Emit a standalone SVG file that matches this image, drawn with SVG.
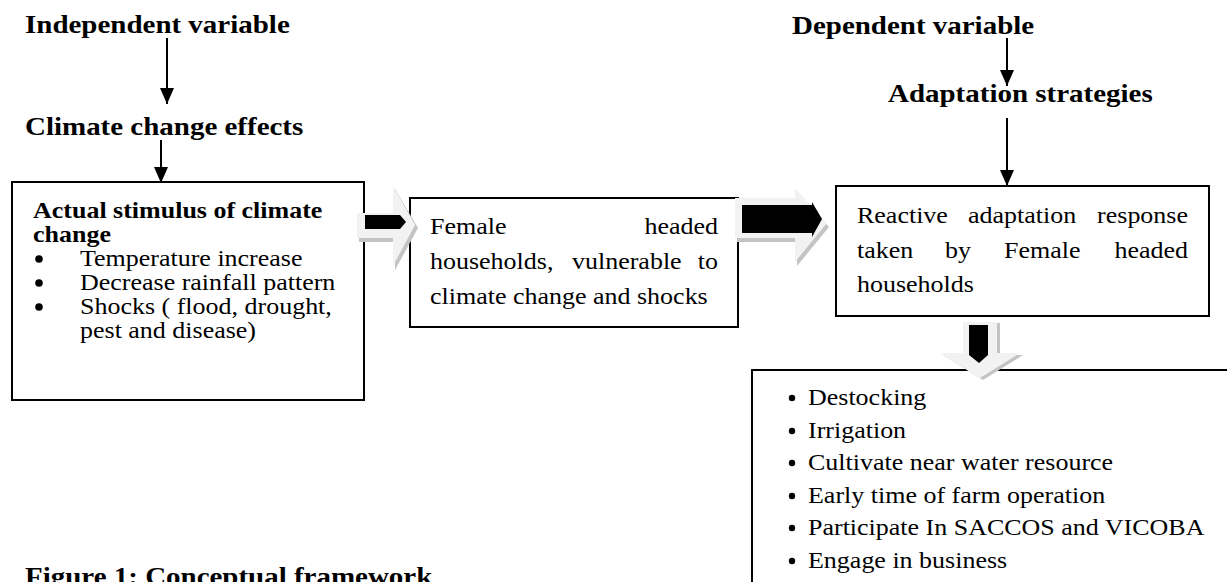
<svg xmlns="http://www.w3.org/2000/svg" width="1227" height="582" viewBox="0 0 1227 582">
<defs>
<style>
text{font-family:"Liberation Serif","Times New Roman",serif;fill:#000}
.h{font-size:25.2px;font-weight:bold}
.b{font-size:22.6px}
.bb{font-size:22.6px;font-weight:bold}
.r{text-anchor:end}
.dot{fill:#000}
.box{fill:#fff;stroke:#000;stroke-width:2}
.ln{stroke:#000;stroke-width:2;fill:none;marker-end:url(#ah)}
.light{fill:#f2f2f2}
.shade{fill:#c4c4c4}
.blk{fill:#000}
</style>
<marker id="ah" viewBox="0 0 16 16" refX="16" refY="8" markerWidth="16" markerHeight="16" markerUnits="userSpaceOnUse" orient="auto"><path d="M0,1 L16,8 L0,15 Z" fill="#000"/></marker>
</defs>
<rect width="1227" height="582" fill="#fff"/>

<g id="independent-variable"><text class="h" transform="translate(25,33) scale(1.15,1)">Independent variable</text></g>
<g id="climate-change-effects"><text class="h" transform="translate(25,135) scale(1.15,1)">Climate change effects</text></g>
<g id="dependent-variable"><text class="h" transform="translate(792,34) scale(1.15,1)">Dependent variable</text></g>
<g id="adaptation-strategies"><text class="h" transform="translate(888,102) scale(1.15,1)">Adaptation strategies</text></g>

<g id="stimulus-box">
<rect class="box" x="12" y="182" width="352" height="218"/>
<text class="bb" transform="translate(33,218) scale(1.15,1)">Actual stimulus of climate</text>
<text class="bb" transform="translate(33,242) scale(1.15,1)">change</text>
<circle class="dot" cx="39" cy="259" r="3.8"/>
<text class="b" transform="translate(80,266) scale(1.15,1)">Temperature increase</text>
<circle class="dot" cx="39" cy="283" r="3.8"/>
<text class="b" transform="translate(80,290) scale(1.15,1)">Decrease rainfall pattern</text>
<circle class="dot" cx="39" cy="307" r="3.8"/>
<text class="b" transform="translate(80,314) scale(1.15,1)">Shocks ( flood, drought,</text>
<text class="b" transform="translate(80,338) scale(1.15,1)">pest and disease)</text>
</g>

<g id="female-headed-box">
<rect class="box" x="410" y="198" width="328" height="129"/>
<text class="b" transform="translate(430,234) scale(1.15,1)">Female</text>
<text class="b r" transform="translate(718,234) scale(1.15,1)">headed</text>
<text class="b" transform="translate(430,269) scale(1.15,1)">households,</text>
<text class="b" transform="translate(572,269) scale(1.15,1)">vulnerable</text>
<text class="b r" transform="translate(718,269) scale(1.15,1)">to</text>
<text class="b" transform="translate(430,304) scale(1.15,1)">climate change and shocks</text>
</g>

<g id="reactive-box">
<rect class="box" x="836" y="186" width="373" height="130"/>
<text class="b" transform="translate(857,223) scale(1.15,1)">Reactive</text>
<text class="b" transform="translate(968,223) scale(1.15,1)">adaptation</text>
<text class="b r" transform="translate(1188,223) scale(1.15,1)">response</text>
<text class="b" transform="translate(857,258) scale(1.15,1)">taken</text>
<text class="b" transform="translate(945,258) scale(1.15,1)">by</text>
<text class="b" transform="translate(1004,258) scale(1.15,1)">Female</text>
<text class="b r" transform="translate(1188,258) scale(1.15,1)">headed</text>
<text class="b" transform="translate(857,292) scale(1.15,1)">households</text>
</g>

<g id="strategies-box">
<rect class="box" x="752" y="370" width="500" height="300"/>
<circle class="dot" cx="792" cy="398" r="3.2"/>
<text class="b" transform="translate(808,405) scale(1.15,1)">Destocking</text>
<circle class="dot" cx="792" cy="431" r="3.2"/>
<text class="b" transform="translate(808,438) scale(1.15,1)">Irrigation</text>
<circle class="dot" cx="792" cy="463" r="3.2"/>
<text class="b" transform="translate(808,470) scale(1.15,1)">Cultivate near water resource</text>
<circle class="dot" cx="792" cy="496" r="3.2"/>
<text class="b" transform="translate(808,503) scale(1.15,1)">Early time of farm operation</text>
<circle class="dot" cx="792" cy="528" r="3.2"/>
<text class="b" transform="translate(808,535) scale(1.15,1)">Participate In SACCOS and VICOBA</text>
<circle class="dot" cx="792" cy="561" r="3.2"/>
<text class="b" transform="translate(808,568) scale(1.15,1)">Engage in business</text>
</g>

<g id="caption"><text class="h" transform="translate(25,585) scale(1.15,1)">Figure 1: Conceptual framework</text></g>

<g id="connectors">
<line class="ln" x1="167" y1="38" x2="167" y2="104"/>
<line class="ln" x1="161" y1="140" x2="161" y2="183"/>
<line class="ln" x1="1007" y1="38" x2="1007" y2="86"/>
<line class="ln" x1="1007" y1="118" x2="1007" y2="186"/>
<g id="block-arrow-1">
<path class="shade" d="M359,216 L395,216 L395,189 L418,228 L395,270 L395,242 L359,242 Z"/>
<path class="light" d="M357,213 L393,213 L393,186 L415,225 L393,266 L393,238 L357,238 Z"/>
<path class="blk" d="M365,215 L400,215 L406,222 L400,229 L365,229 Z"/>
</g>
<g id="block-arrow-2">
<path class="shade" d="M737,202 L797,202 L797,192 L829,227 L797,266 L797,242 L737,242 Z"/>
<path class="light" d="M735,198 L795,198 L795,188 L827,223 L795,262 L795,238 L735,238 Z"/>
<path class="blk" d="M742,205 L812,205 L812,202 L822,219 L812,237 L812,233 L742,233 Z"/>
</g>
<g id="block-arrow-3">
<path class="shade" d="M966,323 L1000,323 L1000,355 L1023,355 L983,380 L943,355 L966,355 Z"/>
<path class="light" d="M963,322 L997,322 L997,353 L1020,353 L980,378 L940,353 L963,353 Z"/>
<path class="blk" d="M969,325 L988,325 L988,355 L979,363 L969,355 Z"/>
</g>
</g>
</svg>
